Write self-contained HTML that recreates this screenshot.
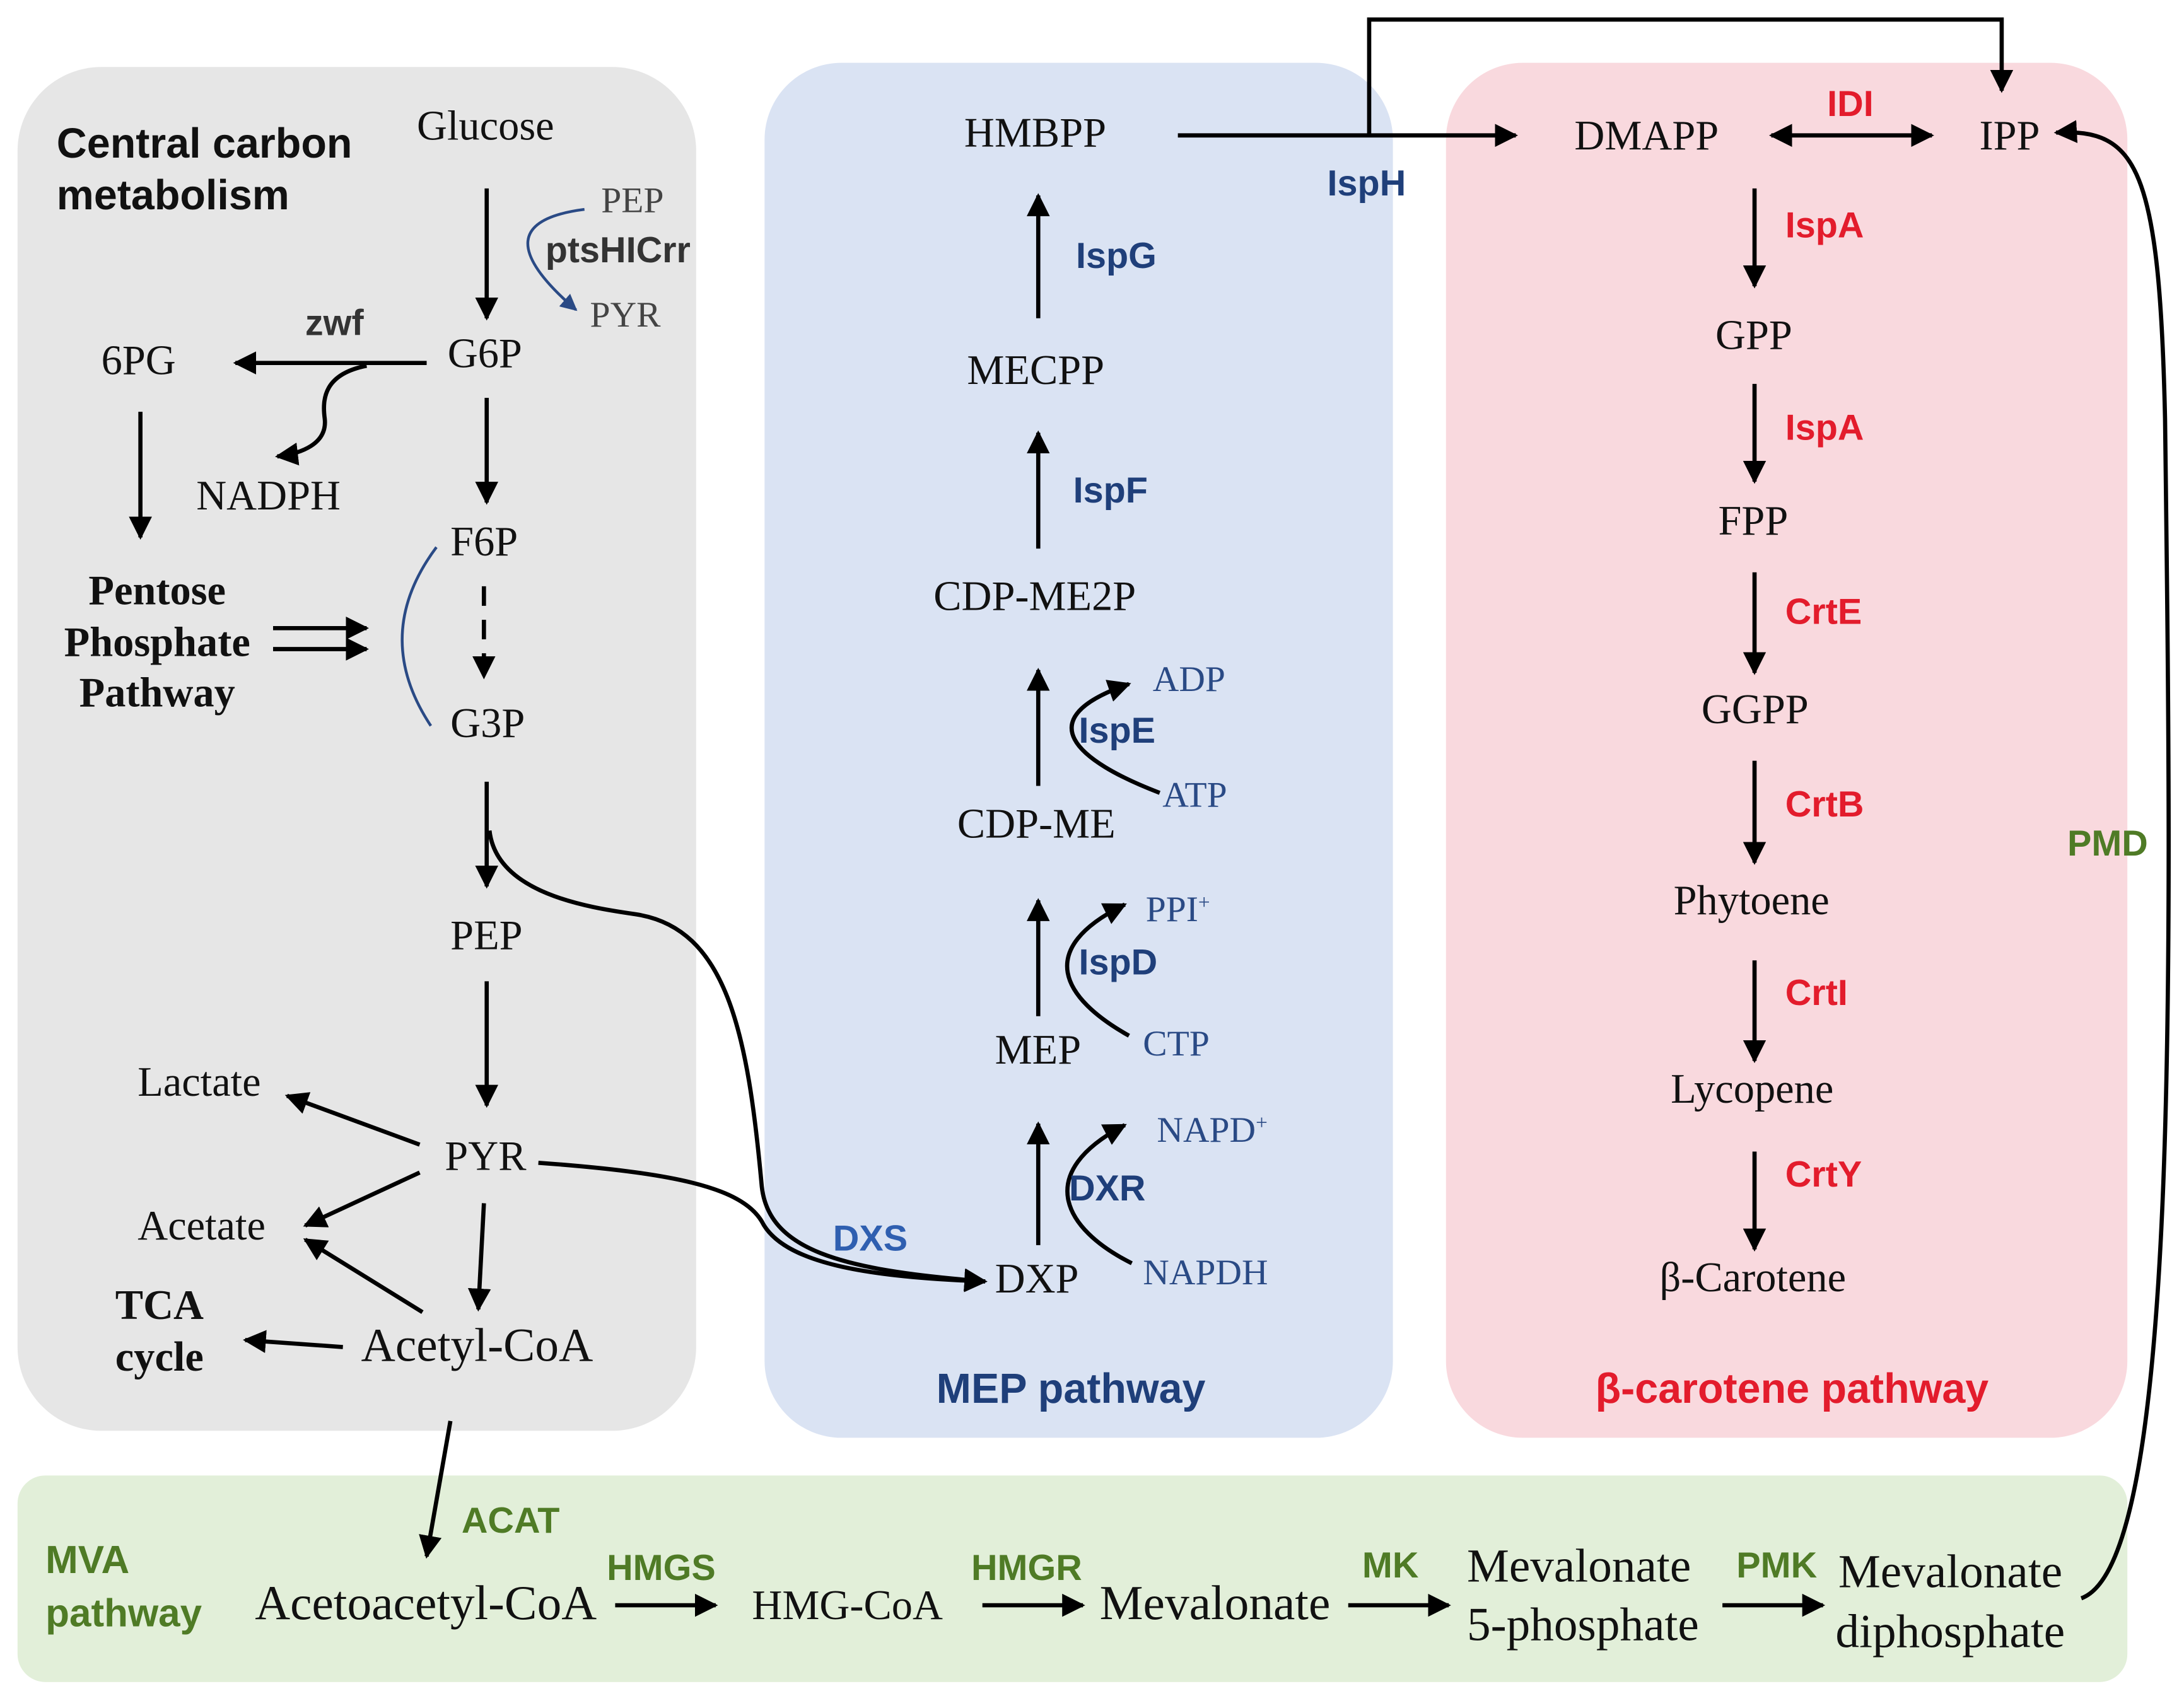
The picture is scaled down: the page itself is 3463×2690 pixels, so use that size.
<!DOCTYPE html>
<html><head><meta charset="utf-8">
<style>
html,body{margin:0;padding:0;background:#fff;}
svg{display:block;}
.s{font-family:"Liberation Serif",serif;font-size:30px;fill:#111;}
.b{font-family:"Liberation Sans",sans-serif;font-weight:bold;font-size:26px;}
.bl{fill:#1f3f7a;}
.rd{fill:#e31c2c;}
.gr{fill:#4f7b26;}
.sb{font-family:"Liberation Serif",serif;font-size:26px;fill:#2a4a85;}
</style></head>
<body>
<svg width="3463" height="2690" viewBox="0 0 1563 1215" xmlns="http://www.w3.org/2000/svg">
<defs>
<marker id="a" viewBox="0 0 10 10" refX="9" refY="5" markerWidth="5.5" markerHeight="5.5" orient="auto-start-reverse"><path d="M0,0 L10,5 L0,10 z" fill="#000"/></marker>
<marker id="ab" viewBox="0 0 10 10" refX="9" refY="5" markerWidth="6" markerHeight="6" orient="auto"><path d="M0,0 L10,5 L0,10 z" fill="#2a4a85"/></marker>
</defs>
<rect width="1563" height="1215" fill="#fff"/>
<rect x="12" y="48" width="486" height="977" rx="60" fill="#e6e6e6"/>
<rect x="547" y="45" width="450" height="985" rx="55" fill="#dae3f3"/>
<rect x="1035" y="45" width="488" height="985" rx="55" fill="#f9d9de"/>
<rect x="12" y="1057" width="1511" height="148" rx="20" fill="#e2efd9"/>

<g stroke="#000" stroke-width="3" fill="none" marker-end="url(#a)">
<line x1="348" y1="135" x2="348" y2="228"/>
<line x1="305" y1="260" x2="168" y2="260"/>
<path d="M262,262 C232,268 230,285 232,300 C234,318 215,325 198,327"/>
<line x1="100" y1="295" x2="100" y2="385"/>
<line x1="348" y1="285" x2="348" y2="360"/>
<line x1="195" y1="450" x2="262" y2="450"/>
<line x1="195" y1="465" x2="262" y2="465"/>
<line x1="346" y1="420" x2="346" y2="485" stroke-dasharray="14,10"/>
<line x1="348" y1="560" x2="348" y2="635"/>
<path d="M350,595 C355,640 420,650 455,655 C520,665 535,740 545,850 C550,895 600,910 705,918"/>
<path d="M385,833 C480,840 530,850 545,875 C560,905 620,915 705,918"/>
<line x1="348" y1="703" x2="348" y2="792"/>
<line x1="300" y1="820" x2="205" y2="785"/>
<line x1="300" y1="840" x2="218" y2="878"/>
<line x1="346" y1="862" x2="342" y2="938"/>
<line x1="302" y1="940" x2="218" y2="888"/>
<line x1="245" y1="965" x2="175" y2="960"/>
<line x1="322" y1="1018" x2="305" y2="1115"/>
<line x1="843" y1="97" x2="1085" y2="97"/>
<path d="M980,97 L980,14 L1433,14 L1433,65"/>
<line x1="743" y1="228" x2="743" y2="140"/>
<line x1="743" y1="393" x2="743" y2="310"/>
<line x1="743" y1="563" x2="743" y2="480"/>
<path d="M830,568 C770,545 735,515 808,490"/>
<line x1="743" y1="728" x2="743" y2="645"/>
<path d="M808,742 C760,715 740,680 805,648"/>
<line x1="743" y1="892" x2="743" y2="805"/>
<path d="M810,905 C760,880 740,840 805,806"/>
<line x1="1268" y1="97" x2="1383" y2="97" marker-start="url(#a)"/>
<line x1="1256" y1="135" x2="1256" y2="205"/>
<line x1="1256" y1="275" x2="1256" y2="345"/>
<line x1="1256" y1="410" x2="1256" y2="482"/>
<line x1="1256" y1="545" x2="1256" y2="618"/>
<line x1="1256" y1="688" x2="1256" y2="760"/>
<line x1="1256" y1="825" x2="1256" y2="895"/>
<path d="M1490,1145 C1560,1120 1555,700 1550,300 C1546,120 1530,92 1472,95"/>
<line x1="440" y1="1150" x2="512" y2="1150"/>
<line x1="703" y1="1150" x2="775" y2="1150"/>
<line x1="965" y1="1150" x2="1037" y2="1150"/>
<line x1="1233" y1="1150" x2="1305" y2="1150"/>
</g>
<path d="M418,150 Q340,160 412,222" stroke="#2a4a85" stroke-width="2" fill="none" marker-end="url(#ab)"/>
<path d="M312,392 Q265,455 308,520" stroke="#2a4a85" stroke-width="2" fill="none"/>

<text class="b" x="40" y="113" style="font-size:30px;fill:#111">Central carbon</text>
<text class="b" x="40" y="150" style="font-size:30px;fill:#111">metabolism</text>
<text class="s" x="298" y="100">Glucose</text>
<text class="s" x="430" y="152" style="font-size:26px;fill:#444">PEP</text>
<text class="s" x="422" y="234" style="font-size:26px;fill:#444">PYR</text>
<text class="b" x="390" y="188" style="fill:#333">ptsHICrr</text>
<text class="s" x="320" y="263">G6P</text>
<text class="b" x="218" y="240" style="fill:#333">zwf</text>
<text class="s" x="72" y="268">6PG</text>
<text class="s" x="140" y="365">NADPH</text>
<text class="s" x="322" y="398">F6P</text>
<text class="s" x="112" y="433" text-anchor="middle" font-weight="bold">Pentose</text>
<text class="s" x="112" y="470" text-anchor="middle" font-weight="bold">Phosphate</text>
<text class="s" x="112" y="506" text-anchor="middle" font-weight="bold">Pathway</text>
<text class="s" x="322" y="528">G3P</text>
<text class="s" x="322" y="680">PEP</text>
<text class="s" x="318" y="838">PYR</text>
<text class="s" x="98" y="785">Lactate</text>
<text class="s" x="98" y="888">Acetate</text>
<text class="s" x="258" y="975" style="font-size:34px">Acetyl-CoA</text>
<text class="s" x="82" y="945" font-weight="bold">TCA</text>
<text class="s" x="82" y="982" font-weight="bold">cycle</text>

<text class="s" x="690" y="105">HMBPP</text>
<text class="b bl" x="950" y="140">IspH</text>
<text class="b bl" x="770" y="192">IspG</text>
<text class="s" x="692" y="275">MECPP</text>
<text class="b bl" x="768" y="360">IspF</text>
<text class="s" x="668" y="437">CDP-ME2P</text>
<text class="b bl" x="772" y="532">IspE</text>
<text class="sb" x="825" y="495">ADP</text>
<text class="sb" x="832" y="578">ATP</text>
<text class="s" x="685" y="600">CDP-ME</text>
<text class="b bl" x="772" y="698">IspD</text>
<text class="sb" x="820" y="660">PPI<tspan dy="-9" font-size="15">+</tspan></text>
<text class="sb" x="818" y="756">CTP</text>
<text class="s" x="712" y="762">MEP</text>
<text class="b bl" x="765" y="860">DXR</text>
<text class="sb" x="828" y="818">NAPD<tspan dy="-9" font-size="15">+</tspan></text>
<text class="sb" x="818" y="920">NAPDH</text>
<text class="s" x="712" y="926">DXP</text>
<text class="b bl" x="596" y="896" style="fill:#2f5fb0">DXS</text>
<text class="b bl" x="670" y="1005" style="font-size:30px">MEP pathway</text>

<text class="s" x="1127" y="107">DMAPP</text>
<text class="b rd" x="1308" y="83">IDI</text>
<text class="s" x="1417" y="107">IPP</text>
<text class="b rd" x="1278" y="170">IspA</text>
<text class="s" x="1228" y="250">GPP</text>
<text class="b rd" x="1278" y="315">IspA</text>
<text class="s" x="1230" y="383">FPP</text>
<text class="b rd" x="1278" y="447">CrtE</text>
<text class="s" x="1218" y="518">GGPP</text>
<text class="b rd" x="1278" y="585">CrtB</text>
<text class="s" x="1198" y="655">Phytoene</text>
<text class="b rd" x="1278" y="720">CrtI</text>
<text class="s" x="1196" y="790">Lycopene</text>
<text class="b rd" x="1278" y="850">CrtY</text>
<text class="s" x="1188" y="925">β-Carotene</text>
<text class="b rd" x="1142" y="1005" style="font-size:30px">β-carotene pathway</text>
<text class="b gr" x="1480" y="613">PMD</text>

<text class="b gr" x="32" y="1127" style="font-size:28px">MVA</text>
<text class="b gr" x="32" y="1165" style="font-size:28px">pathway</text>
<text class="b gr" x="330" y="1098">ACAT</text>
<text class="s" x="182" y="1160" style="font-size:35px">Acetoacetyl-CoA</text>
<text class="b gr" x="434" y="1132">HMGS</text>
<text class="s" x="538" y="1160">HMG-CoA</text>
<text class="b gr" x="695" y="1132">HMGR</text>
<text class="s" x="787" y="1160" style="font-size:35px">Mevalonate</text>
<text class="b gr" x="975" y="1130">MK</text>
<text class="s" x="1050" y="1133" style="font-size:34px">Mevalonate</text>
<text class="s" x="1050" y="1175" style="font-size:34px">5-phosphate</text>
<text class="b gr" x="1243" y="1130">PMK</text>
<text class="s" x="1316" y="1137" style="font-size:34px">Mevalonate</text>
<text class="s" x="1314" y="1180" style="font-size:34px">diphosphate</text>
</svg>
</body></html>
